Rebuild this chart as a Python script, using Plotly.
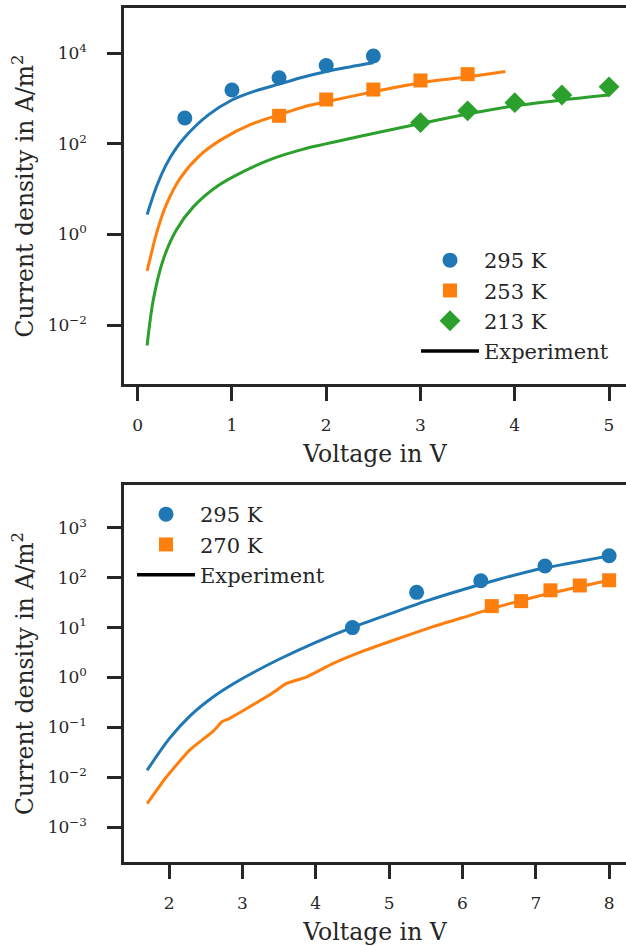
import plotly.graph_objects as go

# ---------------- Top panel data ----------------
top_v_295 = [0.1, 0.2, 0.3, 0.4, 0.5, 0.75, 1.0, 1.25, 1.5, 1.75, 2.0, 2.25, 2.5]
top_j_295 = [2.75, 11.5, 34, 76, 141, 437, 933, 1480, 2090, 2950, 3980, 5010, 6170]
top_v_253 = [0.1, 0.15, 0.2, 0.3, 0.45, 0.66, 0.9, 1.2, 1.5, 1.75, 2.0, 2.5, 3.0, 3.5, 3.9]
top_j_253 = [0.158, 0.42, 1.07, 4.4, 17.4, 56, 129, 269, 437, 646, 851, 1410, 2240, 3020, 3980]
top_v_213 = [0.1, 0.165, 0.27, 0.41, 0.59, 0.84, 1.12, 1.44, 1.75, 2.35, 3.0, 3.5, 4.0, 4.5, 5.0]
top_j_213 = [0.00355, 0.0355, 0.275, 1.26, 4.07, 11.5, 24.5, 47.9, 75.9, 145, 282, 457, 692, 933, 1200]

top_mv_295 = [0.5, 1.0, 1.5, 2.0, 2.5]
top_mj_295 = [372, 1550, 2880, 5370, 8710]
top_mv_253 = [1.5, 2.0, 2.5, 3.0, 3.5]
top_mj_253 = [417, 955, 1585, 2512, 3467]
top_mv_213 = [3.0, 3.5, 4.0, 4.5, 5.0]
top_mj_213 = [295, 537, 813, 1202, 1820]

# ---------------- Bottom panel data ----------------
bot_v_295 = [1.7, 2.0, 2.3, 2.6, 2.9, 3.2, 3.5, 4.0, 4.5, 5.0, 5.5, 6.0, 6.5, 7.0, 7.5, 8.0]
bot_j_295 = [0.0138, 0.0589, 0.178, 0.407, 0.785, 1.38, 2.32, 5.07, 10.1, 18.6, 33.9, 57.5,
             93.3, 145, 200, 275]
bot_v_270 = [1.7, 1.96, 2.28, 2.59, 2.65, 2.72, 2.82, 3.1, 3.41, 3.6, 3.87, 4.23, 4.6, 5.0, 5.6, 6.0, 6.4, 7.0, 7.5, 8.0]
bot_j_270 = [0.00295, 0.010, 0.035, 0.081, 0.10, 0.13, 0.15, 0.26, 0.49, 0.76, 1.02, 1.9, 3.2, 5.2, 10.5, 15.8, 24, 41.7, 61.7, 89]

bot_mv_295 = [4.5, 5.375, 6.25, 7.125, 8.0]
bot_mj_295 = [10, 51, 87, 172, 276]
bot_mv_270 = [6.4, 6.8, 7.2, 7.6, 8.0]
bot_mj_270 = [27, 34, 56, 70, 89]

top_labels = ["295 K", "253 K", "213 K"]
bot_labels = ["295 K", "270 K"]
exp_label = "Experiment"
x_title = "Voltage in V"
y_title = "Current density in A/m<sup>2</sup>"

top_xticks = [0, 1, 2, 3, 4, 5]
top_yticks = [1e-2, 1, 1e2, 1e4]
top_yticktext = ["10<sup>−2</sup>", "10<sup>0</sup>", "10<sup>2</sup>", "10<sup>4</sup>"]
bot_xticks = [2, 3, 4, 5, 6, 7, 8]
bot_yticks = [1e-3, 1e-2, 1e-1, 1, 1e1, 1e2, 1e3]
bot_yticktext = ["10<sup>−3</sup>", "10<sup>−2</sup>", "10<sup>−1</sup>", "10<sup>0</sup>",
                 "10<sup>1</sup>", "10<sup>2</sup>", "10<sup>3</sup>"]

BLUE, ORANGE, GREEN = "#1f77b4", "#ff7f0e", "#2ca02c"
INK = "#262626"
FONT = "DejaVu Serif"
W, H = 626, 946

fig = go.Figure()

# top lines
for v, j, c in [(top_v_295, top_j_295, BLUE), (top_v_253, top_j_253, ORANGE), (top_v_213, top_j_213, GREEN)]:
    fig.add_trace(go.Scatter(x=v, y=j, mode="lines",
                             line=dict(color=c, width=3, shape="spline", smoothing=0.9),
                             showlegend=False, xaxis="x", yaxis="y"))
# top markers
for v, j, c, s, sz, name in [(top_mv_295, top_mj_295, BLUE, "circle", 15, top_labels[0]),
                              (top_mv_253, top_mj_253, ORANGE, "square", 14, top_labels[1]),
                              (top_mv_213, top_mj_213, GREEN, "diamond", 16, top_labels[2])]:
    fig.add_trace(go.Scatter(x=v, y=j, mode="markers", name=name,
                             marker=dict(color=c, symbol=s, size=sz),
                             legend="legend", legendgroup="t" + name, xaxis="x", yaxis="y"))
fig.add_trace(go.Scatter(x=[None], y=[None], mode="lines", name=exp_label,
                         line=dict(color="black", width=3.5), legend="legend",
                         legendgroup="texp", xaxis="x", yaxis="y"))

# bottom lines
fig.add_trace(go.Scatter(x=bot_v_295, y=bot_j_295, mode="lines",
                         line=dict(color=BLUE, width=3, shape="spline", smoothing=0.8),
                         showlegend=False, xaxis="x2", yaxis="y2"))
fig.add_trace(go.Scatter(x=bot_v_270, y=bot_j_270, mode="lines",
                         line=dict(color=ORANGE, width=3, shape="spline", smoothing=0.5),
                         showlegend=False, xaxis="x2", yaxis="y2"))
for v, j, c, s, sz, name in [(bot_mv_295, bot_mj_295, BLUE, "circle", 15, bot_labels[0]),
                              (bot_mv_270, bot_mj_270, ORANGE, "square", 14, bot_labels[1])]:
    fig.add_trace(go.Scatter(x=v, y=j, mode="markers", name=name,
                             marker=dict(color=c, symbol=s, size=sz),
                             legend="legend2", legendgroup="b" + name, xaxis="x2", yaxis="y2"))
fig.add_trace(go.Scatter(x=[None], y=[None], mode="lines", name=exp_label,
                         line=dict(color="black", width=3.5), legend="legend2",
                         legendgroup="bexp", xaxis="x2", yaxis="y2"))

def px_x(p):
    return p / W

def px_y(p):
    return 1 - p / H

axis_common = dict(showline=True, linecolor=INK, linewidth=2.5, ticks="outside",
                   ticklen=14, tickwidth=2.5, tickcolor=INK, showgrid=False, zeroline=False,
                   tickfont=dict(family=FONT, size=17, color=INK))
xaxis_extra = dict(ticklabelstandoff=10)
yaxis_extra = dict(ticklabelstandoff=17)
title_font = dict(family=FONT, size=23.5, color=INK)
legend_font = dict(family=FONT, size=21, color=INK)

fig.update_layout(
    width=W, height=H, margin=dict(l=0, r=0, t=0, b=0),
    paper_bgcolor="white", plot_bgcolor="white",
    font=dict(family=FONT, color=INK),
    xaxis=dict(domain=[px_x(124), 1], range=[-0.145, 5.18], tickvals=top_xticks,
               mirror=True, anchor="y",
               title=dict(text=x_title, font=title_font, standoff=12), **axis_common, **xaxis_extra),
    yaxis=dict(domain=[px_y(384), px_y(8)], type="log", range=[-3.30, 5.0],
               tickvals=top_yticks, ticktext=top_yticktext, anchor="x",
               title=dict(text=y_title, font=title_font, standoff=8), **axis_common, **yaxis_extra),
    xaxis2=dict(domain=[px_x(124), 1], range=[1.385, 8.23], tickvals=bot_xticks,
                mirror=True, anchor="y2",
                title=dict(text=x_title, font=title_font, standoff=12), **axis_common, **xaxis_extra),
    yaxis2=dict(domain=[px_y(862), px_y(485)], type="log", range=[-3.70, 3.86],
                tickvals=bot_yticks, ticktext=bot_yticktext, anchor="x2",
                title=dict(text=y_title, font=title_font, standoff=8), **axis_common, **yaxis_extra),
    legend=dict(x=px_x(416), y=px_y(240), xanchor="left", yanchor="top",
                bgcolor="rgba(0,0,0,0)", font=legend_font,
                tracegroupgap=0, itemwidth=58),
    legend2=dict(x=px_x(132), y=px_y(494), xanchor="left", yanchor="top",
                 bgcolor="rgba(0,0,0,0)", font=legend_font,
                 tracegroupgap=0, itemwidth=58),
)

fig.write_html("out.html")
